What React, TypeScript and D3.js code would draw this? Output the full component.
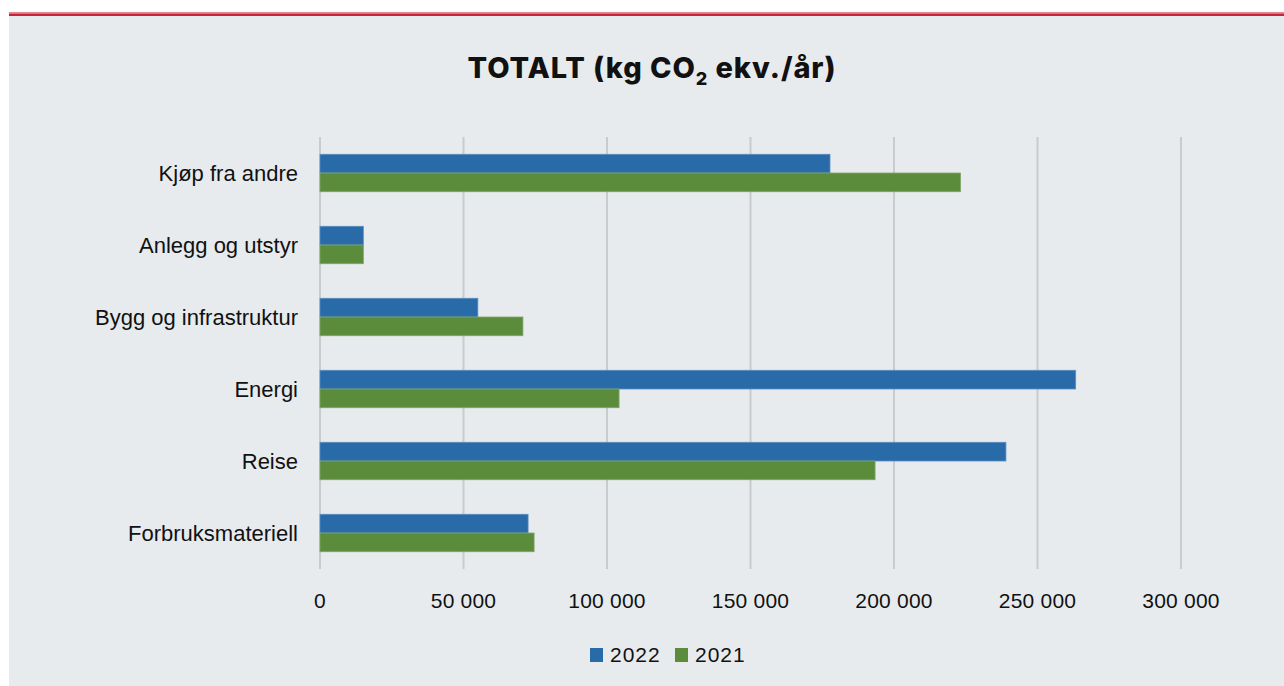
import React from "react";
import * as d3 from "d3";

const categories = [
  "Kjøp fra andre",
  "Anlegg og utstyr",
  "Bygg og infrastruktur",
  "Energi",
  "Reise",
  "Forbruksmateriell",
];
const seriesNames = ["2022", "2021"];
const values2022 = [177700, 15100, 55000, 263300, 239000, 72500];
const values2021 = [223200, 15100, 70700, 104200, 193400, 74600];
const xTicks = [0, 50000, 100000, 150000, 200000, 250000, 300000];
const colors = ["#286BA8", "#5A8C3B"];

const W = 1284;
const H = 686;
const plot = { left: 320, right: 1181, top: 137, bottom: 569 };

export default function App() {
  const x = d3.scaleLinear().domain([0, 300000]).range([plot.left, plot.right]);
  const y = d3
    .scaleBand<string>()
    .domain(categories)
    .range([plot.top, plot.bottom])
    .paddingInner(0.48)
    .paddingOuter(0.24);
  const sub = d3.scaleBand<string>().domain(seriesNames).range([0, y.bandwidth()]);
  const fmt = (v: number) => d3.format(",")(v).replace(/,/g, " ");
  const series = [values2022, values2021];
  const font = "'Liberation Sans', Arial, sans-serif";

  return (
    <svg width={W} height={H} style={{ position: "absolute", left: 0, top: 0 }}>
      <rect x={0} y={0} width={W} height={H} fill="#ffffff" />
      <rect x={9} y={15} width={W - 9} height={H - 15} fill="#E7EBEE" />
      <rect x={9} y={12} width={W - 9} height={1.5} fill="#E58A94" />
      <rect x={9} y={13.5} width={W - 9} height={2.5} fill="#C9253A" />
      <text x={652} y={78} textAnchor="middle" fontFamily="Inter, 'Open Sans', sans-serif" fontWeight={800} fontSize={29} letterSpacing={0.9} fill="#111">
        TOTALT (kg CO<tspan fontSize={18} dy={7}>2</tspan>
        <tspan dy={-7}> ekv./år)</tspan>
      </text>
      {xTicks.map((t) => (
        <g key={t}>
          <line x1={x(t)} x2={x(t)} y1={plot.top} y2={plot.bottom} stroke="#C9CBCD" strokeWidth={2} />
          <text x={x(t)} y={608} textAnchor="middle" fontFamily={font} fontSize={21} fill="#111" letterSpacing={0.2}>
            {fmt(t)}
          </text>
        </g>
      ))}
      {categories.map((c, i) => (
        <g key={c}>
          <text
            x={298}
            y={(y(c) as number) + y.bandwidth() / 2}
            dy="0.35em"
            textAnchor="end"
            fontFamily={font}
            fontSize={22}
            fill="#111"
          >
            {c}
          </text>
          {seriesNames.map((s, k) => (
            <rect
              key={s}
              x={x(0)}
              y={(y(c) as number) + (sub(s) as number)}
              width={x(series[k][i]) - x(0)}
              height={sub.bandwidth()}
              fill={colors[k]}
              stroke={k === 0 ? "#5B8FC2" : "#7FA566"}
              strokeWidth={0.8}
            />
          ))}
        </g>
      ))}
      {seriesNames.map((s, k) => (
        <g key={s} transform={`translate(${590 + k * 85},648)`}>
          <rect x={0} y={0} width={13} height={14} fill={colors[k]} />
          <text x={20} y={7} dy="0.35em" fontFamily={font} fontSize={21} letterSpacing={1} fill="#111">
            {s}
          </text>
        </g>
      ))}
    </svg>
  );
}
